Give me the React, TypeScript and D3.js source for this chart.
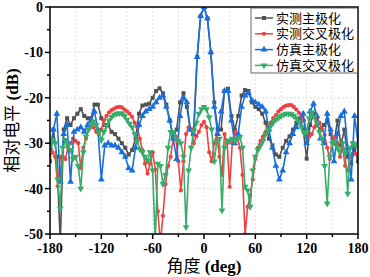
import React from "react";
import * as d3 from "d3";

// ---- data ----
const coAngles = d3.range(-180, 181, 4);
const crossAngles = d3.range(-180, 181, 3);

const measCo = [
  -34, -27, -33, -52, -27, -24.5, -26, -24.5, -23.5, -22.5, -24, -24.5, -24.5, -21.5, -21.5, -24.5,
  -26, -26, -27.5, -28, -29, -30, -31, -32.5, -31.5, -29, -23.5, -21.7, -21.5, -21.3, -20, -18.5,
  -17.9, -19, -21.5, -25, -28.6, -27, -21, -19, -22, -27, -27, -11, -2, 0, -2.5, -10, -21, -27,
  -27, -18.5, -18, -24, -27, -24, -19.5, -18.3, -18.5, -21, -22, -22.5, -23.5, -25.5, -29, -30.5,
  -32.5, -33, -31, -29.5, -28.5, -27, -25.5, -24.5, -27, -33.4, -26, -23.5, -26, -27, -26, -25,
  -28, -30, -25, -30.5, -27, -33, -34.5, -31, -34,
];

const simCo = [
  -31, -27, -23.5, -38.5, -28, -26, -38.5, -27.5, -27, -26.5, -27.5, -26, -25, -23, -27, -38,
  -30.5, -30, -30.5, -30.5, -31, -32, -33, -35.5, -36, -31, -26, -24, -23, -22.5, -22, -21,
  -20, -19.5, -22, -25, -29, -33.5, -24, -20, -21, -27, -28, -11, -2, 0, -2.5, -10, -22, -28,
  -23, -18.5, -18.5, -25, -30, -28, -22, -19.5, -19, -20.5, -21, -21.5, -22, -23, -27, -31,
  -35, -38, -36, -32, -30, -28, -26.5, -25, -23.5, -30, -23, -21.3, -24, -29, -30, -23.5,
  -27, -34, -28, -24, -23, -31, -38, -24, -30,
];

const measCross = [
  -31.5, -32, -33, -39.5, -33, -33, -33.5, -31, -30, -29, -29.5, -30, -35.5, -31, -29, -27,
  -26.4, -26.5, -27.5, -28, -27, -25, -24, -23.2, -22.7, -22.4, -22.1, -22, -22.1, -22.6, -23, -23.5,
  -24.2, -25.5, -26.5, -29, -31.5, -34.5, -36.7, -34.5, -32, -35.8, -45, -52, -46, -39, -35, -33,
  -29, -28.5, -34, -40.4, -34, -28, -26.5, -27, -30, -28.5, -27.5, -26, -25.3, -26.5, -32, -34,
  -30, -28, -33, -37, -28, -30, -39.6, -30, -27.5, -28.5, -31, -37, -50, -44, -41.5, -38,
  -33.5, -31, -29.5, -28.5, -27.5, -26.2, -25.5, -24.5, -23.8, -23, -22.5, -22, -21.7, -21.6, -21.6, -22,
  -22.6, -23.3, -24, -25, -27.5, -28.5, -28, -26.5, -24.6, -25.5, -27, -28.2, -31, -33.5, -29, -28.6,
  -30, -33, -31, -35, -36, -33, -32.3, -32.3, -32.3,
];

const simCross = [
  -30.5, -29.3, -30, -38, -44.4, -31, -29.3, -30.5, -31.5, -33.4, -33, -35, -40, -32, -28.5, -27,
  -26, -25.2, -26, -27.5, -29.3, -27.5, -26.2, -25, -24.2, -23.7, -23.5, -23.4, -23.5, -24, -24.8, -25.7,
  -26.5, -28, -29.5, -31.3, -32, -33, -33.8, -32, -36, -52, -34.5, -35, -39, -37, -31, -27.5,
  -27.5, -29, -29.5, -30, -33, -48.5, -36, -31, -27.3, -25.5, -23.5, -22.5, -22, -22.5, -24.3, -27,
  -34, -29.5, -29, -44.8, -31, -29.5, -29.4, -29, -29.5, -29, -28.6, -31, -39.6, -40.4, -44, -36,
  -33, -31.5, -30.5, -29.5, -28, -27, -26.2, -25.4, -24.8, -24.4, -24, -23.7, -23.5, -23.5, -23.6, -24,
  -24.5, -25.2, -26.5, -27.8, -27.5, -24.5, -23.2, -24.2, -25.5, -27.5, -29, -35, -43.3, -33, -30, -29.5,
  -31, -32, -30, -32, -41.1, -31, -30, -30.5, -30.5,
];

const seriesNames = ["实测主极化", "实测交叉极化", "仿真主极化", "仿真交叉极化"];
const xTicks = [-180, -120, -60, 0, 60, 120, 180];
const yTicks = [0, -10, -20, -30, -40, -50];

// ---- layout ----
const W = 370;
const H = 277;
const L = 50;
const R = 358;
const T = 7;
const B = 234;

const COLORS = ["#515151", "#F14040", "#1A6FDF", "#37AD6B"];
const SYMBOLS = [d3.symbolSquare, d3.symbolCircle, d3.symbolTriangle, d3.symbolTriangle];
const SYMSIZE = [16, 14, 20, 20];
const ROT = [0, 0, 0, 180];

const SERIF = "'Liberation Serif', 'Times New Roman', serif";
const CJK = "'Liberation Serif', 'Noto Sans CJK SC', serif";

export default function App() {
  const x = d3.scaleLinear().domain([-180, 180]).range([L, R]);
  const y = d3.scaleLinear().domain([-50, 0]).range([B, T]);

  const series = [
    { angles: coAngles, values: measCo },
    { angles: crossAngles, values: measCross },
    { angles: coAngles, values: simCo },
    { angles: crossAngles, values: simCross },
  ];

  const line = d3
    .line<[number, number]>()
    .x((d) => x(d[0]))
    .y((d) => y(d[1]));

  const symPaths = SYMBOLS.map((s, i) => d3.symbol().type(s).size(SYMSIZE[i])() as string);

  const gridX = d3.range(-150, 180, 30);
  const gridY = d3.range(-40, 0, 10);
  const minorX = d3.range(-180, 181, 30);
  const minorY = d3.range(-50, 1, 5);

  return (
    <svg
      width={W}
      height={H}
      style={{ position: "absolute", left: 0, top: 0, background: "#fff" }}
    >
      <defs>
        <clipPath id="plotclip">
          <rect x={L} y={T} width={R - L} height={B - T} />
        </clipPath>
      </defs>
      <rect x={0} y={0} width={W} height={H} fill="#fff" />
      {/* grid */}
      {gridX.map((g) => (
        <line
          key={"gx" + g}
          x1={x(g)}
          x2={x(g)}
          y1={T}
          y2={B}
          stroke="#d8d8d8"
          strokeWidth={0.8}
          strokeDasharray="2,2"
        />
      ))}
      {gridY.map((g) => (
        <line
          key={"gy" + g}
          x1={L}
          x2={R}
          y1={y(g)}
          y2={y(g)}
          stroke="#d8d8d8"
          strokeWidth={0.8}
          strokeDasharray="2,2"
        />
      ))}
      {/* series */}
      <g clipPath="url(#plotclip)">
        {series.map((s, i) => {
          const pts: [number, number][] = s.angles.map((a, k) => [a, s.values[k]]);
          return (
            <g key={"s" + i}>
              <path d={line(pts) as string} fill="none" stroke={COLORS[i]} strokeWidth={1.6} />
              {pts.map((p, k) => (
                <path
                  key={k}
                  d={symPaths[i]}
                  fill={COLORS[i]}
                  transform={`translate(${x(p[0])},${y(p[1])}) rotate(${ROT[i]})`}
                />
              ))}
            </g>
          );
        })}
      </g>
      {/* frame */}
      <rect x={L} y={T} width={R - L} height={B - T} fill="none" stroke="#000" strokeWidth={1.5} />
      {/* ticks */}
      {minorX.map((t) => (
        <line
          key={"tx" + t}
          x1={x(t)}
          x2={x(t)}
          y1={B}
          y2={B + (t % 60 === 0 ? 5 : 3)}
          stroke="#000"
          strokeWidth={1.5}
        />
      ))}
      {minorY.map((t) => (
        <line
          key={"ty" + t}
          x1={L}
          x2={L - (t % 10 === 0 ? 5 : 3)}
          y1={y(t)}
          y2={y(t)}
          stroke="#000"
          strokeWidth={1.5}
        />
      ))}
      {xTicks.map((t) => (
        <text
          key={"lx" + t}
          x={x(t)}
          y={B + 18.5}
          textAnchor="middle"
          fontFamily={SERIF}
          fontWeight="bold"
          fontSize={14}
        >
          {t}
        </text>
      ))}
      {yTicks.map((t) => (
        <text
          key={"ly" + t}
          x={L - 7}
          y={y(t) + 5}
          textAnchor="end"
          fontFamily={SERIF}
          fontWeight="bold"
          fontSize={14}
        >
          {t}
        </text>
      ))}
      {/* axis titles */}
      <text x={x(0)} y={272} textAnchor="middle" fontSize={17} fontFamily={CJK}>
        <tspan>角度</tspan>
        <tspan fontWeight="bold"> (deg)</tspan>
      </text>
      <text
        transform={`translate(18,${(T + B) / 2}) rotate(-90)`}
        textAnchor="middle"
        fontSize={17}
        fontFamily={CJK}
      >
        <tspan>相对电平</tspan>
        <tspan fontWeight="bold"> (dB)</tspan>
      </text>
      {/* legend */}
      <g>
        <rect x={251} y={8} width={106.5} height={65} fill="#fff" stroke="#444" strokeWidth={0.8} />
        {seriesNames.map((n, i) => {
          const cy = 18 + i * 15.8;
          return (
            <g key={"lg" + i}>
              <line x1={255} x2={273} y1={cy} y2={cy} stroke={COLORS[i]} strokeWidth={1.5} />
              <path
                d={symPaths[i]}
                fill={COLORS[i]}
                transform={`translate(264,${cy}) rotate(${ROT[i]})`}
              />
              <text x={276} y={cy + 4.5} fontSize={13} fontFamily={CJK}>
                {n}
              </text>
            </g>
          );
        })}
      </g>
    </svg>
  );
}
